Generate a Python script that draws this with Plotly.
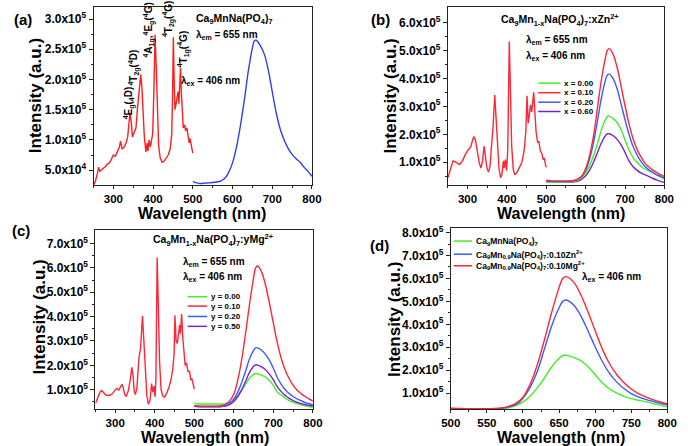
import plotly.graph_objects as go

W, H = 688, 446
FONT = "Liberation Sans, Arial, sans-serif"

# ---------------- data ----------------
# (a) excitation spectrum (lambda_em = 655 nm)
exa_wl = [250, 255, 260, 263, 266, 270, 275, 280, 285, 290, 295, 300, 305, 310, 315, 318, 322, 327,
          332, 336, 339, 342, 345, 348, 352, 357, 361, 364, 369, 372, 375, 378, 382, 385, 387, 390,
          393, 396, 399, 402, 405, 408, 411, 414, 418, 423, 428, 433, 438, 443, 447, 449, 451, 453,
          455, 458, 461, 463, 465, 467, 469, 471, 473, 476, 479, 482, 485, 488, 491, 493, 496, 500]
exa_int = [2.5e4, 3.2e4, 4.5e4, 5.5e4, 4.8e4, 5.0e4, 5.3e4, 5.6e4, 6.0e4, 6.2e4, 6.8e4, 7.5e4, 7.3e4,
           8.0e4, 8.8e4, 9.8e4, 8.5e4, 8.8e4, 9.5e4, 1.05e5, 1.25e5, 1.45e5, 1.3e5, 1.05e5, 1.12e5,
           1.2e5, 1.55e5, 1.75e5, 2.08e5, 1.85e5, 1.45e5, 1.05e5, 8.0e4, 9.5e4, 8.2e4, 1.0e5, 8.8e4,
           1.0e5, 1.1e5, 1.8e5, 2.74e5, 2.2e5, 1.4e5, 9.0e4, 7.0e4, 6.3e4, 6.5e4, 7.0e4, 7.5e4, 8.5e4,
           1.1e5, 1.7e5, 2.7e5, 2.0e5, 1.5e5, 1.6e5, 1.75e5, 1.8e5, 1.6e5, 1.9e5, 2.2e5, 1.8e5, 1.5e5,
           1.2e5, 1.25e5, 1.15e5, 1.2e5, 1.05e5, 9.5e4, 1.02e5, 9.0e4, 7.8e4]

# (b) excitation spectrum (values in 1e5)
exb_wl = [250, 258, 263, 268, 275, 280, 287, 295, 302, 308, 312, 316, 320, 325, 330, 334, 338, 342,
          345, 349, 353, 357, 362, 365, 369, 372, 376, 380, 384, 387, 391, 393, 396, 399, 402, 406,
          409, 412, 416, 420, 426, 432, 438, 444, 448, 451, 454, 457, 460, 463, 465, 468, 471, 474,
          478, 481, 485, 489, 492, 495, 498, 500]
exb_int = [0.45, 0.80, 1.05, 1.02, 0.95, 0.92, 1.05, 1.30, 1.45, 1.55, 1.75, 1.92, 1.80, 1.30, 0.95,
           0.80, 1.05, 1.58, 1.25, 0.80, 0.65, 0.85, 1.80, 2.30, 3.40, 2.60, 1.35, 0.75, 0.45, 0.55,
           1.05, 0.80, 1.10, 0.70, 1.40, 5.32, 3.50, 1.60, 0.75, 0.55, 0.65, 0.80, 1.00, 1.45, 2.10,
           3.38, 2.40, 2.70, 3.05, 2.80, 3.10, 3.50, 2.80, 2.10, 1.70, 1.75, 1.40, 1.30, 1.10, 1.15,
           0.90, 0.82]

# (c) excitation spectrum (values in 1e5)
exc_wl = [250, 256, 262, 266, 270, 276, 282, 288, 294, 300, 305, 309, 313, 317, 320, 324, 328, 333,
          338, 342, 345, 348, 351, 355, 360, 364, 369, 372, 376, 380, 384, 388, 392, 395, 398, 401,
          403, 406, 409, 412, 416, 420, 425, 430, 436, 441, 446, 449, 451, 454, 457, 460, 463, 465,
          468, 471, 474, 477, 480, 484, 488, 491, 494, 497, 500]
exc_int = [0.43, 0.70, 0.92, 0.97, 0.88, 0.78, 0.76, 0.78, 0.85, 1.00, 1.05, 0.98, 1.10, 1.22, 1.10,
           0.80, 0.72, 0.95, 1.40, 1.92, 1.60, 0.95, 0.80, 1.10, 2.30, 2.70, 4.02, 3.00, 1.50, 0.75,
           0.40, 0.55, 1.25, 0.90, 1.15, 0.70, 1.50, 6.43, 4.50, 2.20, 1.00, 0.75, 0.70, 0.85, 1.10,
           1.40, 1.90, 2.50, 4.06, 3.00, 2.90, 3.40, 3.65, 3.30, 4.11, 3.10, 2.40, 2.00, 2.10, 1.75,
           1.75, 1.40, 1.45, 1.20, 1.02]

# emission spectra (lambda_ex = 406 nm), values in 1e5
em_wl = [500, 510, 520, 530, 540, 550, 560, 570, 580, 590, 600, 610, 620, 630, 640, 650, 655, 660,
         670, 680, 690, 700, 710, 720, 730, 740, 750, 760, 770, 780, 790, 800]
em_base = [0.31, 0.29, 0.28, 0.285, 0.29, 0.295, 0.305, 0.32, 0.36, 0.46, 0.62, 0.88, 1.24, 1.67,
           2.15, 2.52, 2.64, 2.65, 2.56, 2.42, 2.16, 1.80, 1.45, 1.18, 1.00, 0.86, 0.76, 0.69, 0.63,
           0.55, 0.48, 0.40]
em_zn10 = [0.33, 0.32, 0.31, 0.31, 0.31, 0.31, 0.32, 0.34, 0.40, 0.50, 0.78, 1.25, 1.95, 2.95, 3.95,
           4.72, 5.00, 5.06, 4.85, 4.38, 3.72, 3.02, 2.38, 1.86, 1.48, 1.20, 0.98, 0.84, 0.73, 0.64,
           0.56, 0.49]
em_zn20 = [0.36, 0.34, 0.33, 0.33, 0.33, 0.33, 0.33, 0.35, 0.40, 0.50, 0.72, 1.12, 1.70, 2.48, 3.30,
           3.92, 4.12, 4.15, 3.98, 3.62, 3.08, 2.52, 2.00, 1.58, 1.28, 1.04, 0.87, 0.74, 0.64, 0.56,
           0.50, 0.44]
em_zn60 = [0.30, 0.29, 0.29, 0.29, 0.29, 0.29, 0.29, 0.30, 0.33, 0.40, 0.52, 0.72, 1.00, 1.35, 1.70,
           1.95, 2.02, 2.02, 1.95, 1.82, 1.62, 1.35, 1.05, 0.85, 0.72, 0.62, 0.56, 0.50, 0.43, 0.37,
           0.32, 0.28]
em_mg00 = [0.45, 0.42, 0.41, 0.41, 0.41, 0.41, 0.41, 0.41, 0.42, 0.47, 0.58, 0.75, 0.98, 1.24, 1.48,
           1.63, 1.67, 1.65, 1.60, 1.52, 1.38, 1.18, 0.90, 0.78, 0.65, 0.55, 0.48, 0.43, 0.38, 0.34,
           0.31, 0.28]
em_mg10 = [0.34, 0.33, 0.32, 0.32, 0.32, 0.32, 0.33, 0.35, 0.42, 0.55, 0.82, 1.40, 2.25, 3.35, 4.55,
           5.60, 6.00, 6.08, 5.85, 5.30, 4.55, 3.72, 2.92, 2.28, 1.80, 1.45, 1.18, 0.98, 0.84, 0.72,
           0.62, 0.53]
em_mg20 = [0.35, 0.32, 0.31, 0.31, 0.31, 0.31, 0.31, 0.32, 0.36, 0.45, 0.62, 0.90, 1.30, 1.78, 2.28,
           2.62, 2.72, 2.72, 2.62, 2.45, 2.20, 1.88, 1.50, 1.22, 1.00, 0.84, 0.72, 0.62, 0.55, 0.48,
           0.43, 0.38]
em_mg50 = [0.32, 0.30, 0.30, 0.30, 0.30, 0.30, 0.30, 0.31, 0.33, 0.40, 0.52, 0.72, 1.00, 1.36, 1.72,
           1.96, 2.02, 2.01, 1.94, 1.82, 1.64, 1.40, 1.12, 0.92, 0.76, 0.64, 0.55, 0.48, 0.43, 0.39,
           0.36, 0.33]

zn_labels = ["x = 0.00", "x = 0.10", "x = 0.20", "x = 0.60"]
mg_labels = ["y = 0.00", "y = 0.10", "y = 0.20", "y = 0.50"]
d_labels = ["Ca<sub>9</sub>MnNa(PO<sub>4</sub>)<sub>7</sub>",
            "Ca<sub>9</sub>Mn<sub>0.9</sub>Na(PO<sub>4</sub>)<sub>7</sub>:0.10Zn<sup>2+</sup>",
            "Ca<sub>9</sub>Mn<sub>0.9</sub>Na(PO<sub>4</sub>)<sub>7</sub>:0.10Mg<sup>2+</sup>"]

# ---------------- style ----------------
RED_A = "#FF1E1E"
BLUE_A = "#2F3FEE"
GREEN = "#44EE2A"
RED = "#FF2636"
BLUE = "#3A5CFF"
PURPLE = "#7A22CC"

def E(v):
    return [x * 1e5 for x in v]

fig = go.Figure()

def add(x, y, color, xa, ya, shape="linear", w=1.4):
    fig.add_trace(go.Scatter(x=x, y=y, mode="lines", line=dict(color=color, width=w, shape=shape),
                             xaxis=xa, yaxis=ya, showlegend=False, hoverinfo="skip"))

# (a)
add(exa_wl, exa_int, RED_A, "x", "y")
add(em_wl, E(em_base), BLUE_A, "x", "y", "spline")
# (b)
add(exb_wl, E(exb_int), RED, "x2", "y2")
for v, c in [(em_zn60, PURPLE), (em_base, GREEN), (em_zn20, BLUE), (em_zn10, RED)]:
    add(em_wl, E(v), c, "x2", "y2", "spline")
# (c)
add(exc_wl, E(exc_int), RED, "x3", "y3")
for v, c in [(em_mg00, GREEN), (em_mg50, PURPLE), (em_mg20, BLUE), (em_mg10, RED)]:
    add(em_wl, E(v), c, "x3", "y3", "spline")
# (d)
for v, c in [(em_base, GREEN), (em_zn10, BLUE), (em_mg10, RED)]:
    add(em_wl, E(v), c, "x4", "y4", "spline")

def fx(px):
    return px / W

def fy(py):
    return 1 - py / H

def sci(v):
    e = 0
    m = v
    while m >= 10:
        m /= 10
        e += 1
    return f"<b>{m:.1f}x10<sup>{e}</sup></b>"

tickfont = dict(family=FONT, size=12, color="black")
xtickfont = dict(family=FONT, size=11.5, color="black")

def xaxis_cfg(l, r, anchor, rng, ticks, minors):
    return dict(domain=[fx(l), fx(r)], anchor=anchor, range=rng, showline=True, linecolor="#222",
                linewidth=1, mirror=True, ticks="outside", ticklen=3, tickwidth=1, tickcolor="#222",
                tickmode="array", tickvals=ticks, ticktext=[f"<b>{t}</b>" for t in ticks],
                tickfont=xtickfont, showgrid=False, zeroline=False,
                minor=dict(tickmode="array", tickvals=minors, ticks="outside", ticklen=2,
                           tickcolor="#222", showgrid=False))

def yaxis_cfg(top, bot, anchor, rng, ticks, minors):
    return dict(domain=[fy(bot), fy(top)], anchor=anchor, range=rng, showline=True, linecolor="#222",
                linewidth=1, mirror=True, ticks="outside", ticklen=4, tickwidth=1, tickcolor="#222",
                tickmode="array", tickvals=ticks, ticktext=[sci(t) for t in ticks], tickfont=tickfont,
                showgrid=False, zeroline=False,
                minor=dict(tickmode="array", tickvals=minors, ticks="outside", ticklen=2,
                           tickcolor="#222", showgrid=False))

xt = [300, 400, 500, 600, 700, 800]
xm = [250, 350, 450, 550, 650, 750]
xt4 = [500, 550, 600, 650, 700, 750, 800]
xm4 = [525, 575, 625, 675, 725, 775]

fig.update_layout(
    width=W, height=H, margin=dict(l=0, r=0, t=0, b=0),
    paper_bgcolor="white", plot_bgcolor="white",
    xaxis=xaxis_cfg(86, 311, "y", [250, 800], xt, xm),
    yaxis=yaxis_cfg(2, 182, "x", [2.55e4, 3.2e5], [5e4, 1e5, 1.5e5, 2e5, 2.5e5, 3e5],
                    [7.5e4, 1.25e5, 1.75e5, 2.25e5, 2.75e5]),
    xaxis2=xaxis_cfg(451, 674, "y2", [250, 800], xt, xm),
    yaxis2=yaxis_cfg(2, 182, "x2", [1.9e4, 6.55e5], [1e5, 2e5, 3e5, 4e5, 5e5, 6e5],
                     [5e4, 1.5e5, 2.5e5, 3.5e5, 4.5e5, 5.5e5]),
    xaxis3=xaxis_cfg(88, 312, "y3", [250, 800], xt, xm),
    yaxis3=yaxis_cfg(228, 409, "x3", [1.9e4, 7.54e5], [1e5, 2e5, 3e5, 4e5, 5e5, 6e5, 7e5],
                     [5e4, 1.5e5, 2.5e5, 3.5e5, 4.5e5, 5.5e5, 6.5e5]),
    xaxis4=xaxis_cfg(454, 677, "y4", [500, 800], xt4, xm4),
    yaxis4=yaxis_cfg(226, 409, "x4", [2.9e4, 8.18e5], [1e5, 2e5, 3e5, 4e5, 5e5, 6e5, 7e5, 8e5],
                     [1.5e5, 2.5e5, 3.5e5, 4.5e5, 5.5e5, 6.5e5, 7.5e5]),
)

ann = []

def T(px, py, text, size, xanchor="center", yanchor="middle", angle=0, color="black"):
    ann.append(dict(x=fx(px), y=fy(py), xref="paper", yref="paper", text=text, showarrow=False,
                    xanchor=xanchor, yanchor=yanchor, textangle=angle,
                    font=dict(family=FONT, size=size, color=color)))

B = lambda s: f"<b>{s}</b>"

# panel labels
T(2, 15, B("(a)"), 15, "left")
T(370, 15, B("(b)"), 15, "left")
T(0, 228, B("(c)"), 15, "left")
T(369, 243, B("(d)"), 15, "left")

# axis titles
for cx, cy in [(27, 92), (392, 92), (30, 316), (396, 318)]:
    T(cx, cy, B("Intensity (a.u.)"), 17, angle=-90)
for cx, cy in [(198, 211), (568, 211), (201, 437), (567, 437)]:
    T(cx, cy, B("Wavelength (nm)"), 16)

# (a) texts
T(231, 14, B("Ca<sub>9</sub>MnNa(PO<sub>4</sub>)<sub>7</sub>"), 10.5)
T(223, 30, B("λ<sub>em</sub> = 655 nm"), 10)
T(206, 77, B("λ<sub>ex</sub> = 406 nm"), 10)
T(122, 99, B("<sup>4</sup>E<sub>g</sub>(<sub>4</sub>D)"), 10, angle=-90)
T(128, 63, B("<sup>4</sup>T<sub>2g</sub>(<sup>4</sup>D)"), 10, angle=-90)
T(143, 25, B("<sup>4</sup>A<sub>1g</sub>,<sup>4</sup>E<sub>g</sub>(<sup>4</sup>G)"), 10, angle=-90)
T(163, 14, B("<sup>4</sup>T<sub>2g</sub>(<sup>4</sup>G)"), 10, angle=-90)
T(178, 44, B("<sup>4</sup>T<sub>1g</sub>(<sup>4</sup>G)"), 10, angle=-90)

# (b) texts
T(566, 15, B("Ca<sub>9</sub>Mn<sub>1-x</sub>Na(PO<sub>4</sub>)<sub>7</sub>:xZn<sup>2+</sup>"), 10.5)
T(563, 35, B("λ<sub>em</sub> = 655 nm"), 10)
T(562, 52, B("λ<sub>ex</sub> = 406 nm"), 10)

# (c) texts
T(209, 238, B("Ca<sub>9</sub>Mn<sub>1-x</sub>Na(PO<sub>4</sub>)<sub>7</sub>:yMg<sup>2+</sup>"), 10.5)
T(210, 260, B("λ<sub>em</sub> = 655 nm"), 10)
T(209, 275, B("λ<sub>ex</sub> = 406 nm"), 10)

# (d) text
T(619, 275, B("λ<sub>ex</sub> = 406 nm"), 10)

shapes = []

def legend(x0, x1, tx, ys, labels, colors, size):
    for yy, lab, col in zip(ys, labels, colors):
        shapes.append(dict(type="line", xref="paper", yref="paper", x0=fx(x0), x1=fx(x1),
                           y0=fy(yy), y1=fy(yy), line=dict(color=col, width=1.5)))
        T(tx, yy, B(lab), size, "left")

legend(544, 567, 569, [79, 88.7, 98.3, 107.7], zn_labels, [GREEN, RED, BLUE, PURPLE], 8)
legend(183, 203, 205, [295, 304.5, 315, 325], mg_labels, [GREEN, RED, BLUE, PURPLE], 8)
legend(457, 476, 478, [238.7, 252, 263.7], d_labels, [GREEN, BLUE, RED], 8.5)

fig.update_layout(annotations=ann, shapes=shapes)
fig.write_html("out.html")
